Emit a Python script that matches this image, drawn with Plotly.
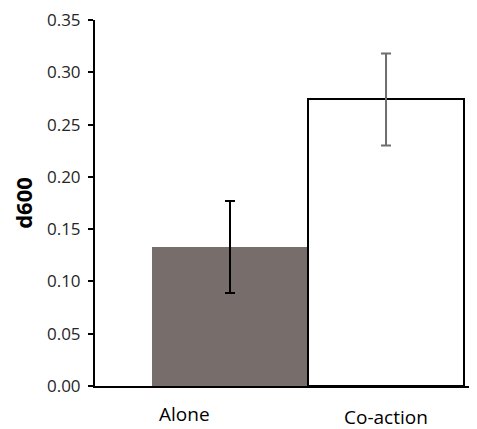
import plotly.graph_objects as go

categories = ["Alone", "Co-action"]
means = [0.133, 0.274]
errors = [0.044, 0.044]
y_ticks = [0.00, 0.05, 0.10, 0.15, 0.20, 0.25, 0.30, 0.35]
y_tick_labels = ["0.00", "0.05", "0.10", "0.15", "0.20", "0.25", "0.30", "0.35"]

fills = ["#776e6c", "#ffffff"]
outlines = ["#776e6c", "#000000"]
outline_w = [0, 2]
err_colors = ["#000000", "#6e6e6e"]
label_dx = [-0.29, 0.0]
label_dy = [-14, -17]

fig = go.Figure()
for i, cat in enumerate(categories):
    fig.add_trace(go.Bar(
        x=[i], y=[means[i]], width=1.0,
        marker=dict(color=fills[i], line=dict(color=outlines[i], width=outline_w[i])),
        error_y=dict(type="data", array=[errors[i]], visible=True,
                     color=err_colors[i], thickness=2, width=5),
        showlegend=False, name=cat,
    ))
    fig.add_annotation(x=i + label_dx[i], y=0, xref="x", yref="paper",
                       text=cat, showarrow=False, yanchor="top", yshift=label_dy[i],
                       borderpad=0,
                       font=dict(family="Open Sans", size=19, color="#000000"))

fig.update_layout(
    width=469, height=421,
    margin=dict(l=87, r=0, t=9, b=43),
    paper_bgcolor="white", plot_bgcolor="white",
    font=dict(family="Open Sans", size=17, color="#262626"),
    bargap=0,
    xaxis=dict(range=[-0.865, 1.583], showticklabels=False, ticks="",
               showline=True, linecolor="#000000", linewidth=2,
               showgrid=False, zeroline=False, fixedrange=True),
    yaxis=dict(range=[0, 0.35], tickvals=y_ticks, ticktext=y_tick_labels,
               ticks="outside", ticklen=5, tickwidth=2, tickcolor="#000000",
               ticklabelstandoff=4, ticklabeloverflow="allow",
               showline=True, linecolor="#000000", linewidth=2,
               showgrid=False, zeroline=False,
               title=dict(text="<b>d600</b>", font=dict(family="Open Sans", size=22, color="#000000"), standoff=20)),
)

fig.write_html("out.html")
